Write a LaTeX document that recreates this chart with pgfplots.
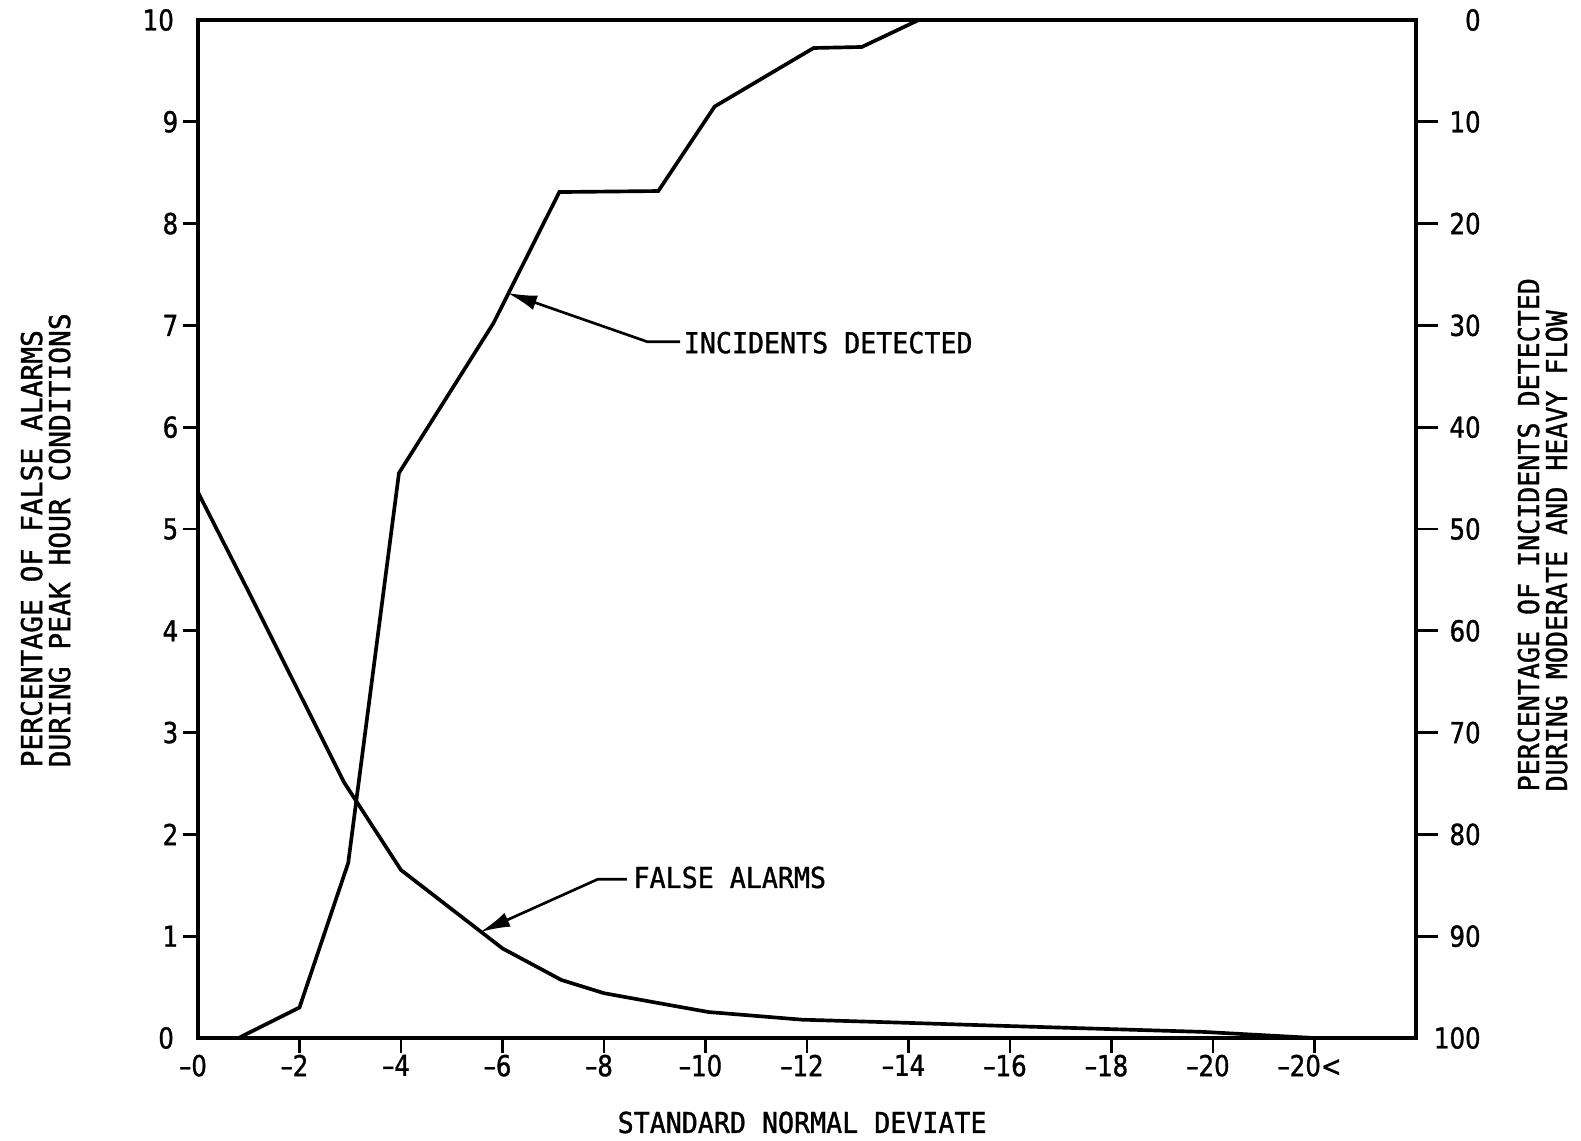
\documentclass[border=0pt]{standalone}
\usepackage{fontspec}
\setmainfont{DejaVu Sans Mono}[FakeStretch=0.925, FakeBold=1.2]
\newfontfamily\widemono{DejaVu Sans Mono}[FakeStretch=0.97, FakeBold=1.2]
\newfontfamily\tickfont{DejaVu Sans}[FakeStretch=0.85, FakeBold=1.2]
\usepackage{pgfplots}
\usepackage{pgfplotstable}
\pgfplotsset{compat=1.18}
\usetikzlibrary{arrows.meta}
\newcommand\fs{\fontsize{8.64pt}{7.4pt}\selectfont}

\pgfplotstableread{
u v
0 5.36
0.95 4.43
2.88 2.51
4.0 1.65
6.0 0.88
7.16 0.57
8.0 0.44
9.33 0.32
10.06 0.255
11.9 0.18
13.9 0.15
15.8 0.12
17.8 0.09
19.8 0.06
22 0
}\falsealarms

\pgfplotstableread{
u r
0.8 100
2.0 97.0
2.96 82.8
3.96 44.5
5.82 29.8
7.12 16.9
9.07 16.8
10.18 8.5
12.13 2.75
13.08 2.65
14.2 0
24 0
}\incidents

\begin{document}
\begin{tikzpicture}
\begin{axis}[
  at={(0pt,0pt)}, anchor=south west,
  scale only axis, width=365.4pt, height=305.4pt,
  xmin=0, xmax=24, ymin=0, ymax=10,
  axis line style={line width=1pt},
  tick style={line width=0.8pt, black},
  tick align=outside,
  major tick length=4.5pt,
  xtick pos=left, ytick pos=left,
  xtick={2,4,...,22},
  xticklabels={–2,–4,–6,–8,–10,–12,–14,–16,–18,–20,–20<},
  ytick={1,...,9},
  extra x ticks={0}, extra x tick labels={–0},
  extra y ticks={0,10},
  extra x tick style={grid=none, major tick length=0pt, xticklabel style={yshift=-4.5pt}},
  extra y tick style={grid=none, major tick length=0pt, yticklabel style={xshift=-5.8pt}},
  /pgf/number format/assume math mode=true,
  tick label style={font=\tickfont\fs},
  xticklabel style={xshift=-1.5pt, yshift=3pt},
  yticklabel style={xshift=2.1pt},
  label style={font=\fs},
  xlabel={STANDARD NORMAL DEVIATE},
  xlabel style={at={(axis description cs:0.496,0)}, anchor=center, yshift=-25.35pt},
  ylabel={PERCENTAGE OF FALSE ALARMS\\[1pt]DURING PEAK HOUR CONDITIONS},
  ylabel style={font=\widemono\fs, at={(axis description cs:-0.1461,0.2652)}, anchor=north west, align=left, inner sep=0pt},
  clip=false,
]
\addplot[black, line width=1.1pt] table[x=u, y=v] {\falsealarms};
\draw[line width=0.8pt, -{Latex[length=9pt,width=4.5pt]}] (axis cs:9.50,6.84) -- (axis cs:8.85,6.84) -- (axis cs:6.09,7.32);
\node[anchor=west, inner sep=0pt, font=\fs] at (axis cs:9.56,6.83) {INCIDENTS DETECTED};
\draw[line width=0.8pt, -{Latex[length=9pt,width=4.5pt]}] (axis cs:8.45,1.56) -- (axis cs:7.88,1.56) -- (axis cs:5.56,1.04);
\node[anchor=west, inner sep=0pt, font=\fs] at (axis cs:8.57,1.577) {FALSE ALARMS};
\end{axis}
\begin{axis}[
  at={(0pt,0pt)}, anchor=south west,
  scale only axis, width=365.4pt, height=305.4pt,
  xmin=0, xmax=24, ymin=0, ymax=100,
  y dir=reverse,
  axis line style={draw=none},
  xtick=\empty,
  ytick pos=right,
  ytick={10,20,...,90},
  extra y ticks={0,100},
  extra y tick style={grid=none, major tick length=0pt, yticklabel style={xshift=6.6pt}},
  tick style={line width=0.8pt, black},
  tick align=outside,
  major tick length=6.6pt,
  /pgf/number format/assume math mode=true,
  tick label style={font=\tickfont\fs},
  yticklabel style={anchor=east, inner sep=0pt, xshift=13pt},
  label style={font=\fs},
  ylabel={PERCENTAGE OF INCIDENTS DETECTED\\[1pt]DURING MODERATE AND HEAVY FLOW},
  ylabel style={at={(axis description cs:1.0829,0.2416)}, anchor=north west, align=left, inner sep=0pt},
]
\addplot[black, line width=1.1pt] table[x=u, y=r] {\incidents};
\end{axis}
\pgfresetboundingbox
\path[use as bounding box] (-59.4pt,-30.9pt) rectangle (414.9pt,311.4pt);
\end{tikzpicture}
\end{document}
